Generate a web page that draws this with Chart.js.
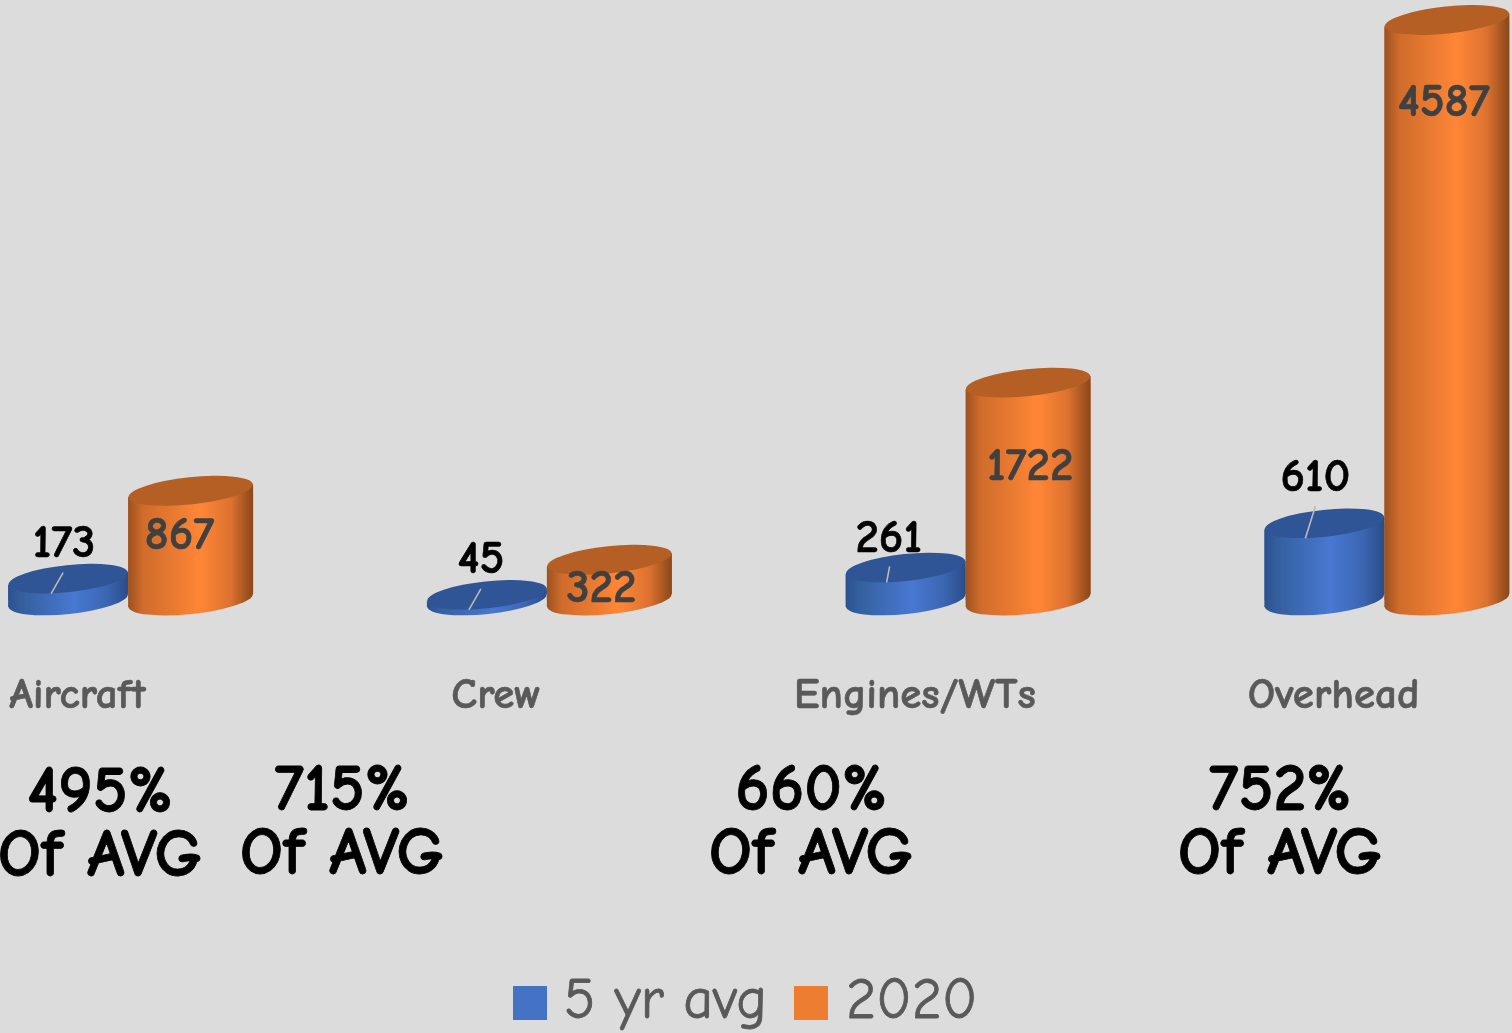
<!DOCTYPE html>
<html><head><meta charset="utf-8">
<style>html,body{margin:0;padding:0;background:#dcdcdc;overflow:hidden;width:1512px;height:1033px}
#wrap{position:absolute;left:-80px;top:0;width:1675px;height:1033px}</style>
<script src="https://cdn.jsdelivr.net/npm/chart.js@4"></script></head>
<body><div id="wrap"><canvas id="c" width="1675" height="1033"></canvas></div>
<script>
const categories = ["Aircraft","Crew","Engines/WTs","Overhead"];
const avgValues = [173,45,261,610];
const y2020Values = [867,322,1722,4587];
const seriesNames = ["5 yr avg","2020"];
const seriesColors = ['#4472c4','#ed7d31'];
const pctLabels = ["495%","715%","660%","752%"];
const ofAvgLabel = "Of AVG";

const FONT = '"Comic Sans MS","Comic Neue",Lato,sans-serif';
// label offsets relative to the top centre of each cylinder
const labelOffsets = [
  [[-4,-35],[-6,-35],[-17,-29],[-9,-46]],
  [[-11,45],[-8,29],[2,84],[-3,83]]
];
const leaderLines = [[-5,-6,-17,15],[-6,-6,-18,15],[-16,-1,-19,15],[-9,-17,-19,15]];
const pctSpots = [[100,793,857],[342,791,855],[811,791,855],[1280,791,855]];
const legendSpots = [[513,564],[794,846]];
const DY = 6.5, RY = 13.5, ROT = -6*Math.PI/180;
const ramps = [
  [[0,'#2c5190'],[.12,'#35609f'],[.55,'#4878d2'],[.82,'#3c66b2'],[1,'#2a4c88']],
  [[0,'#9c5120'],[.12,'#d06c2b'],[.58,'#ff8636'],[.82,'#dc7230'],[1,'#8a4719']]
];
const topColors = ['#2f5596','#b65f24'];

function grad(ctx,l,r,s){const g=ctx.createLinearGradient(l,0,r,0);ramps[s].forEach(p=>g.addColorStop(p[0],p[1]));return g;}
function geom(b){const h=b.width/2;return{l:b.x-h,r:b.x+h,c:b.x,t:b.y,b:b.base,h};}
function heavy(ctx,t,x,y,w){ctx.lineJoin='round';ctx.lineWidth=w;ctx.strokeStyle=ctx.fillStyle;ctx.strokeText(t,x,y);ctx.fillText(t,x,y);}

const cylinders = {
  id:'cylinders',
  beforeDatasetsDraw(chart){
    const ctx=chart.ctx;ctx.save();ctx.beginPath();
    chart.data.datasets.forEach((d,s)=>chart.getDatasetMeta(s).data.forEach(b=>{
      const g=geom(b);
      ctx.moveTo(g.l,g.t+DY);ctx.lineTo(g.r,g.t-DY);ctx.lineTo(g.r,g.b-DY);ctx.lineTo(g.l,g.b+DY);ctx.closePath();
    }));
    ctx.clip();
  },
  afterDatasetsDraw(chart){
    const ctx=chart.ctx;ctx.restore();
    chart.data.datasets.forEach((d,s)=>chart.getDatasetMeta(s).data.forEach((b,i)=>{
      const g=geom(b);
      ctx.fillStyle=grad(ctx,g.l,g.r,s);
      ctx.beginPath();ctx.moveTo(g.l,g.t+DY);ctx.lineTo(g.r,g.t-DY);ctx.lineTo(g.r,g.b-DY);ctx.lineTo(g.l,g.b+DY);ctx.closePath();ctx.fill();
      ctx.beginPath();ctx.ellipse(g.c,g.b,g.h,RY,ROT,0,Math.PI*2);ctx.fill();
      ctx.fillStyle=topColors[s];
      ctx.beginPath();ctx.ellipse(g.c,g.t,g.h,RY,ROT,0,Math.PI*2);ctx.fill();
    }));
    // leader lines + value labels
    ctx.textAlign='center';ctx.textBaseline='middle';
    chart.data.datasets.forEach((d,s)=>chart.getDatasetMeta(s).data.forEach((b,i)=>{
      if(s===0){const L=leaderLines[i];ctx.strokeStyle='#b9b9b9';ctx.lineWidth=1.6;ctx.beginPath();
        ctx.moveTo(b.x+L[0],b.y+L[1]);ctx.lineTo(b.x+L[2],b.y+L[3]);ctx.stroke();}
      const o=labelOffsets[s][i];
      ctx.fillStyle=s===0?'#000':'#404040';
      ctx.font='bold 47px '+FONT;
      heavy(ctx,String(d.data[i]),b.x+o[0],b.y+o[1],0.6);
    }));
    // percent annotations (canvas sits 80px left of the page)
    ctx.fillStyle='#000';ctx.font='bold 66px '+FONT;
    pctLabels.forEach((t,i)=>{const p=pctSpots[i];
      heavy(ctx,t,p[0]+80,p[1],0.8);
      ctx.save();ctx.font='bold 68px '+FONT;heavy(ctx,ofAvgLabel,p[0]+80,p[2],0.8);ctx.restore();});
    // legend
    seriesNames.forEach((t,i)=>{const L=legendSpots[i];
      ctx.fillStyle=seriesColors[i];ctx.fillRect(L[0]+80,986,34,34);
      ctx.fillStyle='#595959';ctx.font='normal 58px '+FONT;ctx.textAlign='left';ctx.textBaseline='middle';
      heavy(ctx,t,L[1]+80,1002,0.8);
    });
  }
};

new Chart(document.getElementById('c'),{
  type:'bar',
  data:{labels:categories,datasets:[
    {label:seriesNames[0],data:avgValues,backgroundColor:seriesColors[0],barPercentage:120/122.5,categoryPercentage:245/418.75},
    {label:seriesNames[1],data:y2020Values,backgroundColor:seriesColors[1],barPercentage:125/122.5,categoryPercentage:245/418.75}
  ]},
  options:{
    responsive:false,animation:false,
    layout:{padding:{top:20,left:0,right:0,bottom:0}},
    plugins:{tooltip:{enabled:false},legend:{display:false}},
    scales:{
      x:{grid:{display:false,drawTicks:false},border:{display:false},
        afterFit(s){s.height=432.5;},
        ticks:{color:'#595959',textStrokeColor:'#595959',textStrokeWidth:0.6,labelOffset:-52,padding:70,maxRotation:0,autoSkip:false,font:{family:FONT,size:43,weight:'bold'}}},
      y:{display:false,min:0,max:4587}
    }
  },
  plugins:[cylinders]
});
</script></body></html>
